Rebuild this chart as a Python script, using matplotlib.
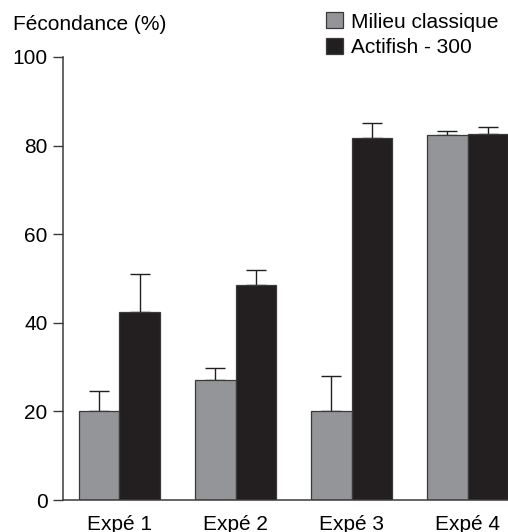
import matplotlib
matplotlib.use("Agg")
import matplotlib.pyplot as plt
import matplotlib.patches as mpatches
import numpy as np

plt.rcParams.update({
    "font.family": ["Liberation Sans", "DejaVu Sans"],
    "font.size": 15,
})

GRAY = "#939598"
BLACK = "#231f20"
EDGE = "#3a3a3a"

groups = ["Expé 1", "Expé 2", "Expé 3", "Expé 4"]
classique = [20.2, 27.2, 20.2, 82.5]
classique_err = [4.5, 2.6, 7.7, 0.8]
actifish = [42.5, 48.5, 81.8, 82.6]
actifish_err = [8.5, 3.4, 3.3, 1.6]
series_names = ["Milieu classique", "Actifish - 300"]

fig = plt.figure(figsize=(5.08, 5.32), dpi=100)
ax = fig.add_axes([63 / 508, 32 / 532, 445 / 508, 443 / 532])

x = np.arange(len(groups))
w = 0.35
ax.bar(x - w / 2, classique, w, color=GRAY, edgecolor=EDGE, linewidth=0.9, zorder=2)
ax.bar(x + w / 2, actifish, w, color=BLACK, edgecolor=EDGE, linewidth=0.9, zorder=2)
ax.errorbar(x - w / 2, classique, yerr=[np.zeros(4), classique_err], fmt="none",
            ecolor=BLACK, elinewidth=1, capsize=7, capthick=1, zorder=1)
ax.errorbar(x + w / 2, actifish, yerr=[np.zeros(4), actifish_err], fmt="none",
            ecolor=BLACK, elinewidth=1, capsize=7, capthick=1, zorder=1)

ax.set_xlim(-0.487, 3.349)
ax.set_ylim(0, 100)
ax.set_yticks([0, 20, 40, 60, 80, 100])
ax.set_xticks(x)
ax.set_xticklabels(groups)
ax.tick_params(axis="x", length=0, pad=10.5, labelsize=15)
ax.tick_params(axis="y", length=7, width=1, color=EDGE, pad=4, labelsize=15)
for s in ["top", "right"]:
    ax.spines[s].set_visible(False)
for s in ["left", "bottom"]:
    ax.spines[s].set_color(EDGE)
    ax.spines[s].set_linewidth(1.1)

fig.text(13 / 508, 1 - 30 / 532, "Fécondance (%)", ha="left", va="baseline", fontsize=15)

handles = [
    mpatches.Patch(facecolor=GRAY, edgecolor=EDGE, linewidth=0.9, label=series_names[0]),
    mpatches.Patch(facecolor=BLACK, edgecolor=EDGE, linewidth=0.9, label=series_names[1]),
]
fig.legend(handles=handles, loc="upper left", bbox_to_anchor=(318 / 508, 1 - 4 / 532),
           frameon=False, fontsize=15, handlelength=0.8, handleheight=0.8,
           handletextpad=0.4, labelspacing=0.3, borderaxespad=0.2, borderpad=0.2)

fig.savefig("out.png", dpi=100)
